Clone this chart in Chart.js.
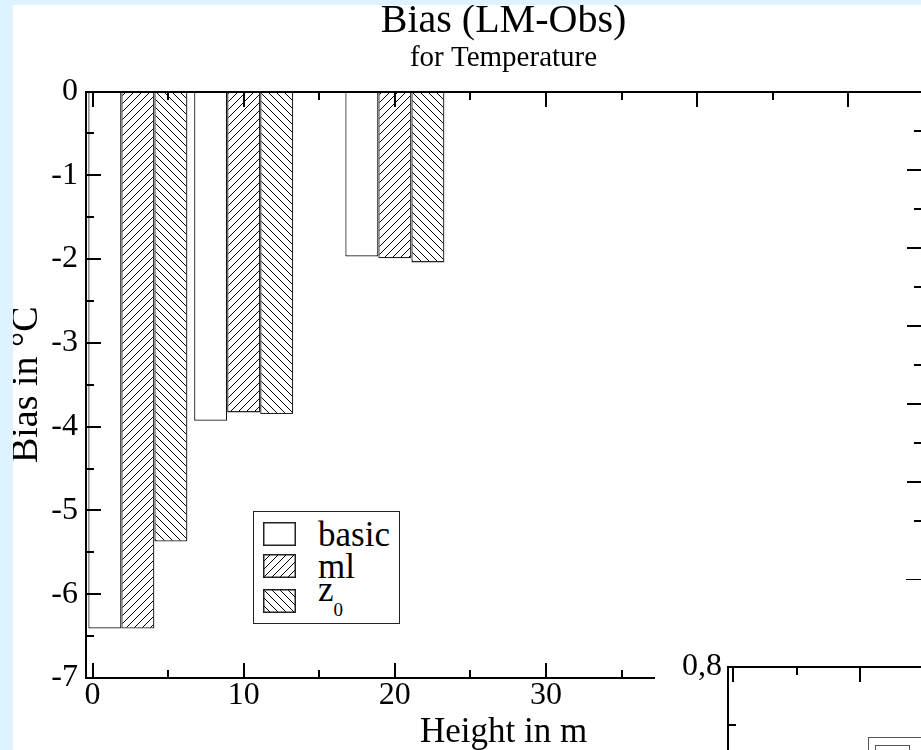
<!DOCTYPE html>
<html>
<head>
<meta charset="utf-8">
<script src="https://cdn.jsdelivr.net/npm/chart.js@4.4.1/dist/chart.umd.min.js"></script>
<style>
  html, body { margin: 0; padding: 0; width: 921px; height: 750px; overflow: hidden; background: #ddf3fe; position: relative; }
  canvas { position: absolute; display: block; }
  #main { left: 13px; top: 5px; background: #fff; }
  #lower { left: 655px; top: 645px; background: #fff; }
  #side { left: 880px; top: 0; }
  #legend { position: absolute; left: 253px; top: 511px; width: 145px; height: 111px; border: 1.5px solid #222; background: #fff;
            font-family: "Liberation Serif", serif; font-size: 35px; color: #000; }
  #legend span { position: absolute; left: 64px; line-height: 35px; white-space: nowrap; }
  #legend sub { font-size: 19px; vertical-align: -15px; line-height: 1; }
  #lowerLegend { position: absolute; left: 868px; top: 737px; width: 120px; height: 60px; border: 1px solid #555; background: #fff; }
  #lowerLegend div { position: absolute; left: 6px; top: 7px; width: 33px; height: 24px; border: 1px solid #555; }
</style>
</head>
<body>
<canvas id="main" width="908" height="745"></canvas>
<div id="legend"></div>
<canvas id="side" width="100" height="700"></canvas>
<canvas id="lower" width="266" height="275"></canvas>
<div id="lowerLegend"><div></div></div>
<script>
// measuring heights (m) and bias LM-Obs (°C)
const heights = [3, 10, 20];
const seriesNames = ['basic', 'ml', 'z0'];
const basicBias = [-6.41, -3.93, -1.97];
const mlBias = [-6.41, -3.83, -1.99];
const z0Bias = [-5.37, -3.85, -2.04];

const xMajor = [0, 10, 20, 30, 40, 50];
const xMinor = [5, 15, 25, 35, 45, 55];
const yMajor = [0, -1, -2, -3, -4, -5, -6, -7];
const yMinor = [-0.5, -1.5, -2.5, -3.5, -4.5, -5.5, -6.5];

// partly visible neighbour plots
const lowerXMajor = [0, 1];
const lowerXMinor = [0.5];
const lowerYMajor = [0.8, 0.6, 0.4];
const lowerYMinor = [0.7, 0.5];
const sideYMajor = [1, 2, 3, 4, 5];
const sideYMinor = [0.5, 1.5, 2.5, 3.5, 4.5, 5.5];

const serif = 'Liberation Serif';

function hatchTile(up) {
    const c = document.createElement('canvas');
    c.width = 8; c.height = 8;
    const g = c.getContext('2d');
    g.fillStyle = '#fff';
    g.fillRect(0, 0, 8, 8);
    g.fillStyle = '#000';
    for (let i = 0; i < 8; i++) g.fillRect(i, up ? 7 - i : i, 1, 1);
    return c;
}
const tiles = [null, hatchTile(true), hatchTile(false)];

function fillFor(ctx, i) {
    return tiles[i] ? ctx.createPattern(tiles[i], 'repeat') : '#fff';
}

// frame lines and inward ticks, placed through the chart's scales
const framePlugin = {
    id: 'frame',
    afterDatasetsDraw(chart, args, opts) {
        const {ctx, chartArea: a, scales} = chart;
        const L = Math.round(a.left), R = Math.round(a.right), T = Math.round(a.top), B = Math.round(a.bottom);
        ctx.save();
        ctx.strokeStyle = '#000';
        ctx.lineWidth = 2;
        const line = (x1, y1, x2, y2) => {
            ctx.beginPath(); ctx.moveTo(x1, y1); ctx.lineTo(x2, y2); ctx.stroke();
        };
        (opts.edges || []).forEach(e => {
            const s = scales[e.axis];
            if (e.line !== false) {
                if (e.side === 'top') line(L - 1, T, R, T);
                if (e.side === 'bottom') line(L - 1, B, R, B);
                if (e.side === 'left') line(L, T, L, B + 1);
            }
            const tick = (v, len) => {
                const p = Math.round(s.getPixelForValue(v));
                if (e.side === 'top') line(p, T, p, T + len);
                if (e.side === 'bottom') line(p, B, p, B - len);
                if (e.side === 'left') line(L, p, L + len, p);
                if (e.side === 'leftOut') line(L, p, L - len, p);
            };
            e.major.forEach(v => tick(v, 15));
            e.minor.forEach(v => tick(v, 8));
            if (e.base) {
                ctx.lineWidth = 1;
                line(L - 16, B + 0.5, R, B + 0.5);
                ctx.lineWidth = 2;
            }
        });
        ctx.restore();
    }
};

const mainCtx = document.getElementById('main').getContext('2d');
const seriesValues = [basicBias, mlBias, z0Bias];
const noGrid = {display: false, drawTicks: false, offset: false};

const chart = new Chart(mainCtx, {
    type: 'bar',
    data: {
        datasets: seriesNames.map((name, i) => ({
            label: name,
            data: heights.map((h, j) => ({x: h, y: seriesValues[i][j]})),
            backgroundColor: fillFor(mainCtx, i),
            borderColor: i === 0 ? '#111' : '#222',
            borderWidth: i === 0 ? 1.2 : 1.3,
            borderSkipped: false
        }))
    },
    options: {
        responsive: false,
        animation: false,
        events: [],
        categoryPercentage: 0.936,
        barPercentage: 1,
        layout: {padding: 0},
        scales: {
            x: {
                type: 'linear',
                offset: false,
                min: -0.43,
                max: 54.8,
                grid: noGrid,
                border: {display: false},
                afterBuildTicks: s => { s.ticks = xMajor.map(v => ({value: v})); },
                afterFit: s => { s.height = 72; },
                ticks: {
                    color: '#000', padding: 2, maxRotation: 0, autoSkip: false,
                    font: {family: serif, size: 32, lineHeight: 1}
                },
                title: {
                    display: true, text: 'Height in m', color: '#000',
                    font: {family: serif, size: 35, lineHeight: 1}, padding: 0
                }
            },
            y: {
                min: -7,
                max: 0,
                grid: noGrid,
                border: {display: false},
                afterBuildTicks: s => { s.ticks = yMajor.map(v => ({value: v})); },
                afterFit: s => { s.width = 73; },
                ticks: {color: '#000', padding: 8, font: {family: serif, size: 32, lineHeight: 1}},
                title: {
                    display: true, text: 'Bias in °C', color: '#000',
                    font: {family: serif, size: 38, lineHeight: 0.72}, padding: 0
                }
            }
        },
        plugins: {
            legend: {display: false},
            tooltip: {enabled: false},
            title: {
                display: true, text: 'Bias (LM-Obs)', color: '#000', fullSize: false,
                font: {family: serif, size: 40, weight: 'normal', lineHeight: 0.8},
                padding: {top: 0.5, bottom: 0}
            },
            subtitle: {
                display: true, text: 'for Temperature', color: '#000', fullSize: false,
                font: {family: serif, size: 29, weight: 'normal', lineHeight: 1},
                padding: {top: 6.2, bottom: 18.8}
            },
            frame: {
                edges: [
                    {side: 'top', axis: 'x', major: xMajor, minor: xMinor},
                    {side: 'bottom', axis: 'x', major: xMajor, minor: xMinor},
                    {side: 'left', axis: 'y', major: yMajor, minor: yMinor}
                ]
            }
        }
    },
    plugins: [framePlugin]
});

// legend, built from the datasets
const legendBox = document.getElementById('legend');
const legendTops = [10, 42, 77];
chart.data.datasets.forEach((ds, i) => {
    const sw = document.createElement('canvas');
    sw.width = 33; sw.height = 24;
    sw.style.left = '9px';
    sw.style.top = legendTops[i] + 'px';
    const g = sw.getContext('2d');
    g.fillStyle = fillFor(g, i);
    g.fillRect(0, 0, 33, 24);
    g.strokeStyle = '#222';
    g.lineWidth = 1.5;
    g.strokeRect(0.75, 0.75, 31.5, 22.5);
    legendBox.appendChild(sw);
    const m = ds.label.match(/^(\D+)(\d+)$/);
    const sp = document.createElement('span');
    if (m) {
        sp.innerHTML = m[1] + '<sub>' + m[2] + '</sub>';
        sp.style.top = (legendTops[i] - 17.3) + 'px';
    } else {
        sp.textContent = ds.label;
        sp.style.top = (legendTops[i] - 5.3) + 'px';
    }
    legendBox.appendChild(sp);
});

// neighbouring plot, lower right
new Chart(document.getElementById('lower'), {
    type: 'scatter',
    data: {datasets: []},
    options: {
        responsive: false,
        animation: false,
        events: [],
        layout: {padding: {top: 19}},
        scales: {
            x: {
                min: -0.04, max: 1.48,
                grid: noGrid, border: {display: false},
                ticks: {display: false},
                afterFit: s => { s.height = 0; }
            },
            y: {
                min: 0.4, max: 0.8,
                grid: noGrid, border: {display: false},
                afterBuildTicks: s => { s.ticks = lowerYMajor.map(v => ({value: v})); },
                afterFit: s => { s.width = 73; },
                ticks: {
                    color: '#000', padding: 6,
                    font: {family: serif, size: 32, lineHeight: 1},
                    callback: v => v.toFixed(1).replace('.', ',')
                }
            }
        },
        plugins: {
            legend: {display: false},
            tooltip: {enabled: false},
            frame: {
                edges: [
                    {side: 'top', axis: 'x', major: lowerXMajor, minor: lowerXMinor},
                    {side: 'left', axis: 'y', major: lowerYMajor, minor: lowerYMinor}
                ]
            }
        }
    },
    plugins: [framePlugin]
});

// neighbouring plot, right edge
new Chart(document.getElementById('side'), {
    type: 'scatter',
    data: {datasets: []},
    options: {
        responsive: false,
        animation: false,
        events: [],
        layout: {padding: {left: 42, top: 92, right: 0, bottom: 121}},
        scales: {
            x: {display: false, min: 0, max: 1},
            y: {display: false, min: -0.24, max: 6}
        },
        plugins: {
            legend: {display: false},
            tooltip: {enabled: false},
            frame: {
                edges: [
                    {side: 'leftOut', axis: 'y', line: false, base: true, major: sideYMajor, minor: sideYMinor}
                ]
            }
        }
    },
    plugins: [framePlugin]
});
</script>
</body>
</html>
